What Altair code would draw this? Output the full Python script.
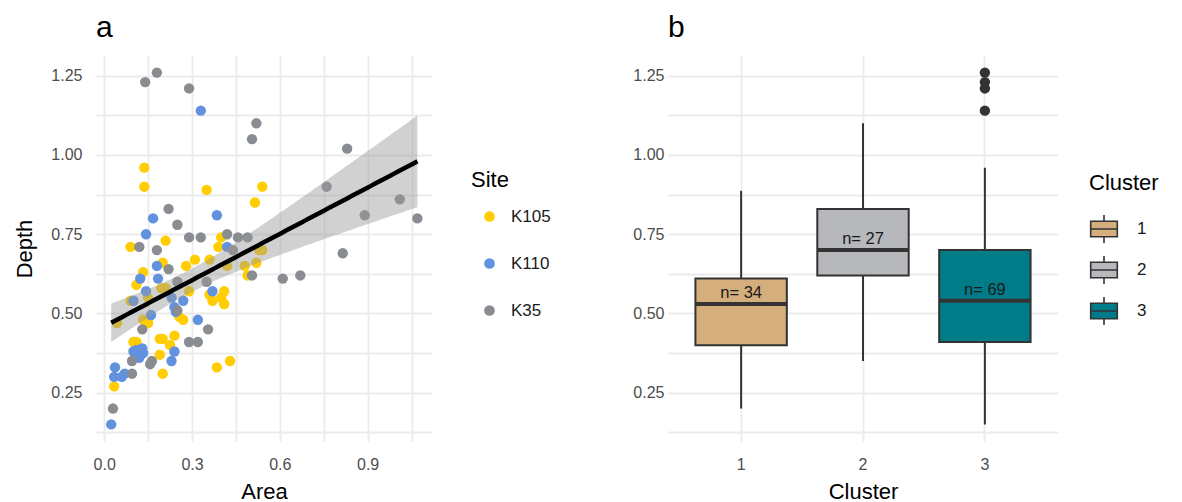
import altair as alt
import pandas as pd
import numpy as np

FONT = "Liberation Sans"

# ---------------- Panel a data (Area vs Depth by Site) ----------------
site_names = ["K105", "K110", "K35"]
site_colors = ["#FFCD00", "#6292DE", "#898D92"]

k105_area = [0.137, 0.137, 0.21, 0.09, 0.35, 0.54, 0.515, 0.40, 0.39, 0.54, 0.20, 0.28,
             0.31, 0.133, 0.11, 0.15, 0.195, 0.21, 0.29, 0.044, 0.133, 0.15, 0.256, 0.27,
             0.20, 0.24, 0.36, 0.53, 0.42, 0.48, 0.49, 0.52, 0.36, 0.41, 0.37, 0.41,
             0.40, 0.385, 0.43, 0.10, 0.11, 0.19, 0.20, 0.225, 0.19, 0.034, 0.09]
k105_depth = [0.96, 0.90, 0.73, 0.71, 0.89, 0.90, 0.85, 0.74, 0.71, 0.70, 0.66, 0.65,
              0.67, 0.63, 0.59, 0.55, 0.58, 0.58, 0.57, 0.47, 0.48, 0.47, 0.49, 0.48,
              0.42, 0.43, 0.67, 0.70, 0.65, 0.65, 0.62, 0.66, 0.56, 0.57, 0.54, 0.53,
              0.55, 0.33, 0.35, 0.41, 0.41, 0.37, 0.31, 0.40, 0.42, 0.27, 0.54]

k110_area = [0.33, 0.167, 0.143, 0.385, 0.42, 0.18, 0.123, 0.184, 0.143, 0.10, 0.23, 0.24,
             0.16, 0.245, 0.37, 0.32, 0.27, 0.10, 0.11, 0.13, 0.133, 0.12, 0.23, 0.24,
             0.037, 0.034, 0.06, 0.07, 0.024]
k110_depth = [1.14, 0.80, 0.75, 0.81, 0.71, 0.65, 0.61, 0.61, 0.57, 0.54, 0.55, 0.52,
              0.495, 0.505, 0.57, 0.48, 0.54, 0.38, 0.385, 0.39, 0.375, 0.36, 0.35, 0.38,
              0.33, 0.30, 0.30, 0.31, 0.15]

k35_area = [0.14, 0.18, 0.29, 0.52, 0.505, 0.83, 0.76, 0.89, 1.01, 1.07, 0.815, 0.61,
            0.67, 0.22, 0.25, 0.29, 0.33, 0.12, 0.18, 0.42, 0.457, 0.49, 0.22, 0.25,
            0.44, 0.505, 0.35, 0.355, 0.32, 0.13, 0.29, 0.095, 0.157, 0.163, 0.095,
            0.03, 0.25]
k35_depth = [1.23, 1.26, 1.21, 1.10, 1.05, 1.02, 0.90, 0.81, 0.86, 0.80, 0.69, 0.61,
             0.62, 0.83, 0.78, 0.74, 0.74, 0.71, 0.70, 0.75, 0.74, 0.74, 0.64, 0.60,
             0.70, 0.62, 0.60, 0.45, 0.41, 0.45, 0.41, 0.35, 0.34, 0.35, 0.31,
             0.20, 0.51]

# ---------------- Panel b data (boxplot summaries by Cluster) ----------------
cluster_ids = ["1", "2", "3"]
cluster_colors = ["#D4AE7C", "#B6B8BC", "#007C89"]
box_low = [0.20, 0.35, 0.15]
box_q1 = [0.40, 0.62, 0.41]
box_median = [0.53, 0.70, 0.54]
box_q3 = [0.61, 0.83, 0.70]
box_high = [0.887, 1.10, 0.96]
box_n = [34, 27, 69]
outlier_cluster = ["3", "3", "3", "3"]
outlier_depth = [1.26, 1.23, 1.21, 1.14]

# ---------------- Build tables ----------------
pts = pd.DataFrame({
    "Area": k105_area + k110_area + k35_area,
    "Depth": k105_depth + k110_depth + k35_depth,
    "Site": ["K105"] * len(k105_area) + ["K110"] * len(k110_area) + ["K35"] * len(k35_area),
})

# linear fit with 95% confidence band (computed from the points)
xa = pts["Area"].to_numpy()
ya = pts["Depth"].to_numpy()
n = len(xa)
slope, intercept = np.polyfit(xa, ya, 1)
resid = ya - (slope * xa + intercept)
s = np.sqrt(np.sum(resid ** 2) / (n - 2))
xbar = xa.mean()
sxx = np.sum((xa - xbar) ** 2)
xs = np.linspace(xa.min(), xa.max(), 80)
fit = slope * xs + intercept
se = s * np.sqrt(1.0 / n + (xs - xbar) ** 2 / sxx)
fit_df = pd.DataFrame({"Area": xs, "fit": fit, "lo": fit - 1.98 * se, "hi": fit + 1.98 * se})

box_df = pd.DataFrame({
    "Cluster": cluster_ids, "low": box_low, "q1": box_q1, "median": box_median,
    "q3": box_q3, "high": box_high,
    "label": ["n= %d" % v for v in box_n],
})
out_df = pd.DataFrame({"Cluster": outlier_cluster, "Depth": outlier_depth})

# ---------------- Scales / axes ----------------
y_scale = alt.Scale(domain=[0.0945, 1.3155], nice=False, zero=False)
x_scale = alt.Scale(domain=[-0.028, 1.12], nice=False, zero=False)
y_vals = [round(0.125 * i, 3) for i in range(1, 11)]
x_vals = [round(0.15 * i, 2) for i in range(0, 8)]
y_label = "abs(datum.value*4 - round(datum.value*4)) < 0.001 ? format(datum.value, '.2f') : ''"
x_label = "abs(datum.value/0.3 - round(datum.value/0.3)) < 0.001 ? format(datum.value, '.1f') : ''"

y_axis_a = alt.Axis(values=y_vals, labelExpr=y_label, titlePadding=14, labelPadding=14)
y_axis_b = alt.Axis(values=y_vals, labelExpr=y_label, labelPadding=4, title=None)
x_axis_a = alt.Axis(values=x_vals, labelExpr=x_label, labelPadding=14, titlePadding=9)

# ---------------- Panel a ----------------
points = alt.Chart(pts).mark_circle(size=108, opacity=1).encode(
    x=alt.X("Area:Q", scale=x_scale, axis=x_axis_a, title="Area"),
    y=alt.Y("Depth:Q", scale=y_scale, axis=y_axis_a, title="Depth"),
    color=alt.Color("Site:N", scale=alt.Scale(domain=site_names, range=site_colors),
                    legend=alt.Legend(title="Site", orient="none", legendX=375, legendY=115,
                                      symbolType="circle", symbolSize=115, symbolStrokeWidth=0,
                                      symbolOpacity=1, rowPadding=29, titlePadding=16,
                                      symbolOffset=10, labelOffset=13)),
)
band = alt.Chart(fit_df).mark_area(color="#999999", opacity=0.45).encode(
    x=alt.X("Area:Q", scale=x_scale), y=alt.Y("lo:Q", scale=y_scale), y2="hi:Q")
line = alt.Chart(fit_df).mark_line(color="black", strokeWidth=4.5).encode(
    x=alt.X("Area:Q", scale=x_scale), y=alt.Y("fit:Q", scale=y_scale))

panel_a = alt.layer(points, band, line).properties(
    width=336, height=387,
    title=alt.TitleParams("a", anchor="start", frame="group", fontSize=30,
                          fontWeight="normal", color="black", offset=12),
)

# ---------------- Panel b ----------------
x_b = alt.X("Cluster:N", scale=alt.Scale(domain=cluster_ids, paddingInner=0, paddingOuter=0.1),
            axis=alt.Axis(labelAngle=0, grid=True, bandPosition=0.5, labelPadding=14,
                          titlePadding=9), title="Cluster")

box_symbol = "M-0.95,-0.55H0.95V0.55H-0.95Z M-0.95,0H0.95 M0,-0.55V-1 M0,0.55V1"

whisk = alt.Chart(box_df).mark_rule(color="#333333", strokeWidth=2).encode(
    x=x_b, y=alt.Y("low:Q", scale=y_scale, axis=y_axis_b), y2="high:Q")
boxes = alt.Chart(box_df).mark_bar(width=alt.RelativeBandSize(0.75), stroke="#333333",
                                   strokeWidth=2, opacity=1).encode(
    x=x_b, y=alt.Y("q1:Q", scale=y_scale), y2="q3:Q",
    fill=alt.Fill("Cluster:N", scale=alt.Scale(domain=cluster_ids, range=cluster_colors),
                  legend=alt.Legend(title="Cluster", orient="none", legendX=993, legendY=118,
                                    symbolType=box_symbol, symbolSize=784,
                                    symbolStrokeColor="#333333", symbolStrokeWidth=1.6,
                                    symbolOpacity=1, rowPadding=5, titlePadding=19,
                                    labelOffset=18)),
)
med = alt.Chart(box_df).mark_tick(color="#333333", thickness=4, size=91, opacity=1).encode(
    x=x_b, y=alt.Y("median:Q", scale=y_scale))
txt = alt.Chart(box_df).mark_text(fontSize=16.5, dy=-11, baseline="middle", color="#1A1A1A",
                                  font=FONT).encode(
    x=x_b, y=alt.Y("median:Q", scale=y_scale), text="label:N")
outs = alt.Chart(out_df).mark_circle(size=108, color="#333333", opacity=1).encode(
    x=x_b, y=alt.Y("Depth:Q", scale=y_scale))

panel_b = alt.layer(whisk, boxes, med, txt, outs).properties(
    width=390, height=387,
    title=alt.TitleParams("b", anchor="start", frame="group", fontSize=30,
                          fontWeight="normal", color="black", offset=12),
)

chart = alt.hconcat(panel_a, panel_b, spacing=200).properties(padding=5).configure_view(
    stroke=None
).configure_axis(
    grid=True, gridColor="#EBEBEB", gridWidth=1.8, ticks=False, domain=False,
    labelColor="#4D4D4D", labelFontSize=16, labelFont=FONT,
    titleColor="black", titleFontSize=22, titleFont=FONT, titleFontWeight="normal",
).configure_legend(
    titleFontSize=22, titleFont=FONT, titleFontWeight="normal", titleColor="black",
    labelFontSize=17, labelFont=FONT, labelColor="#1A1A1A", padding=0,
).configure_title(font=FONT)

chart.save("out.html", embed_options={"renderer": "svg", "actions": False})
